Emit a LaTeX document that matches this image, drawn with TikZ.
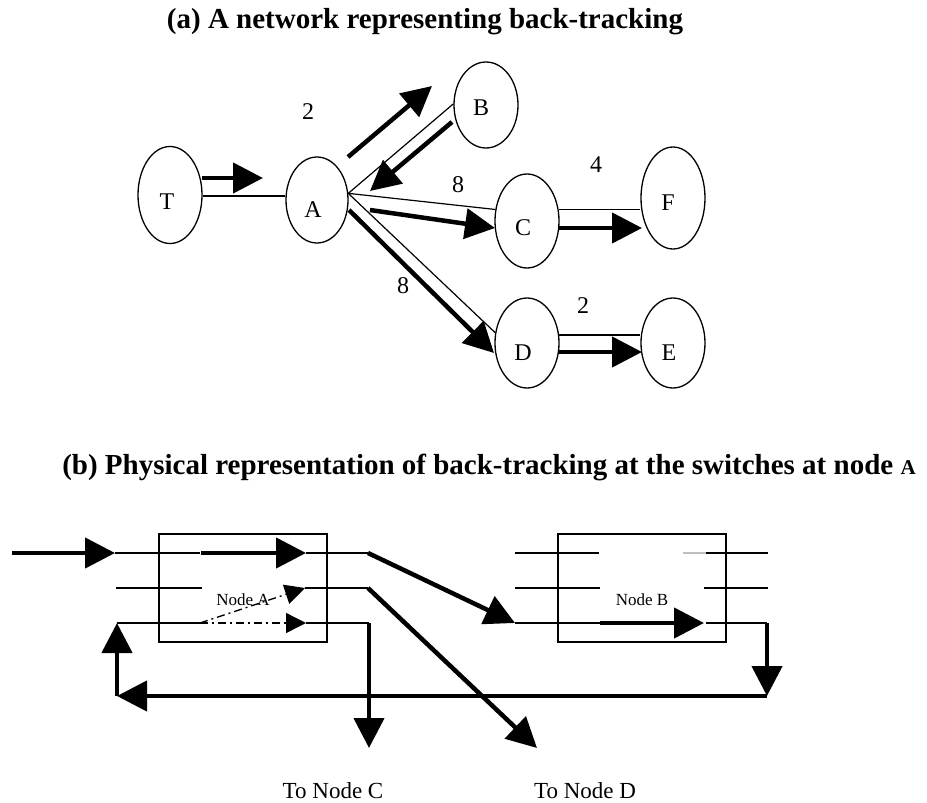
\documentclass[tikz,border=0pt]{standalone}
\usepackage{fontspec}
\setmainfont{Liberation Serif}
\usetikzlibrary{shapes.geometric,arrows.meta}
\begin{document}
\begin{tikzpicture}[x=1pt,y=-1pt,
  ell/.style={draw, ellipse, line width=1.3pt, inner sep=0pt},
  lbl/.style={font=\fontsize{24}{28}\selectfont, inner sep=0pt},
  small/.style={font=\fontsize{17}{20}\selectfont, inner sep=0pt},
  title/.style={font=\fontsize{29}{34}\selectfont\bfseries, inner sep=0pt, anchor=base},
  thinedge/.style={line width=1.2pt},
  wire/.style={line width=1.6pt},
  fat/.style={line width=4.5pt, -{Triangle[length=30pt,width=30pt]}},
  fatline/.style={line width=4.5pt},
  dashdot/.style={line width=1.4pt, dash pattern=on 8pt off 4pt on 2pt off 4pt, -{Triangle[length=20pt,width=20pt]}},
  box/.style={draw, line width=1.6pt, minimum width=168pt, minimum height=108pt, inner sep=0pt}
]
\useasboundingbox (0,0) rectangle (927,803);

% ---------- (a) ----------
\node[title] (ta) at (425,28) {(a) A network representing back-tracking};

\node[ell, minimum width=64pt, minimum height=97pt] (T) at (170,195) {};
\node[ell, minimum width=62pt, minimum height=86pt] (A) at (317,200) {};
\node[ell, minimum width=64pt, minimum height=86pt] (B) at (486,105) {};
\node[ell, minimum width=64pt, minimum height=94pt] (C) at (527,221) {};
\node[ell, minimum width=64pt, minimum height=102pt] (F) at (673,198) {};
\node[ell, minimum width=64pt, minimum height=90pt] (D) at (527,343) {};
\node[ell, minimum width=64pt, minimum height=90pt] (E) at (673,343) {};

\node[lbl] (Tl) at (167,202) {T};
\node[lbl] (Al) at (313,210) {A};
\node[lbl] (Bl) at (481,108) {B};
\node[lbl] (Cl) at (523,228) {C};
\node[lbl] (Fl) at (668,203) {F};
\node[lbl] (Dl) at (523,353) {D};
\node[lbl] (El) at (669,353) {E};

\node[lbl] (w1) at (308,112) {2};
\node[lbl] (w2) at (458,185) {8};
\node[lbl] (w3) at (403,286) {8};
\node[lbl] (w4) at (596,165) {4};
\node[lbl] (w5) at (583,306) {2};

% thin edges
\draw[thinedge] (T.east |- 0,196) -- (A.west |- 0,196);
\draw[thinedge] (A.12) -- (B.178);
\draw[thinedge] (A.12) -- (C.160);
\draw[thinedge] (A.12) -- (D.162);
\draw[thinedge] (C.20) -- (C.20 -| F.west);
\draw[thinedge] (D.14) -- (D.14 -| E.west);

% thick arrows
\coordinate (ta1) at (202,178); \coordinate (ta2) at (263,178);
\coordinate (ab1) at (348,157); \coordinate (ab2) at (432,86);
\coordinate (ba1) at (452,122); \coordinate (ba2) at (370,191);
\coordinate (ac1) at (370,210); \coordinate (ac2) at (495,228);
\coordinate (ad1) at (349,210); \coordinate (ad2) at (494,353);
\coordinate (cf1) at (558,228); \coordinate (cf2) at (642,228);
\coordinate (de1) at (558,352); \coordinate (de2) at (642,352);
\draw[fat] (ta1) -- (ta2);
\draw[fat] (ab1) -- (ab2);
\draw[fat] (ba1) -- (ba2);
\draw[fat] (ac1) -- (ac2);
\draw[fat] (ad1) -- (ad2);
\draw[fat] (cf1) -- (cf2);
\draw[fat] (de1) -- (de2);

% ---------- (b) ----------
\node[title] (tb) at (489,474) {(b) Physical representation of back-tracking at the switches at node {\fontsize{21}{25}\selectfont A}};

\node[box] (NA) at (243,588) {};
\node[box] (NB) at (642,588) {};
\node[small] (NAl) at (243,600) {Node A};
\node[small] (NBl) at (642,600) {Node B};

% node A wires
\coordinate (in0) at (12,553);
\coordinate (a1l) at (115,553); \coordinate (a1m) at (200,553);
\coordinate (a1s) at (201,553); \coordinate (a1t) at (306,553); \coordinate (a1r) at (368,553);
\coordinate (a2l) at (116,588); \coordinate (a2m) at (202,588);
\coordinate (a2t) at (305,588); \coordinate (a2r) at (368,588);
\coordinate (a3l) at (117,623); \coordinate (a3m) at (200,623);
\coordinate (a3t) at (306,623); \coordinate (a3r) at (369,623);

\draw[fat] (in0) -- (a1l);
\draw[wire] (a1l) -- (a1m);
\draw[fat] (a1s) -- (a1t);
\draw[wire] (a1t) -- (a1r);
\draw[wire] (a2l) -- (a2m);
\draw[wire] (a2t) -- (a2r);
\draw[wire] (a3l) -- (a3m);
\draw[wire] (a3t) -- (a3r);
\draw[dashdot] (a3m) -- (a2t);
\draw[dashdot] (a3m) -- (a3t);

% node B wires
\coordinate (b1l) at (515,553); \coordinate (b1m) at (599,553);
\coordinate (b1g) at (683,553); \coordinate (b1n) at (706,553); \coordinate (b1r) at (768,553);
\coordinate (b2l) at (515,588); \coordinate (b2m) at (600,588);
\coordinate (b2n) at (704,588); \coordinate (b2r) at (768,588);
\coordinate (b3l) at (515,623); \coordinate (b3m) at (600,623);
\coordinate (b3t) at (704,623); \coordinate (b3n) at (706,623); \coordinate (b3r) at (767,623);

\draw[wire] (b1l) -- (b1m);
\draw[line width=1.2pt, gray!50] (b1g) -- (b1n);
\draw[wire] (b1n) -- (b1r);
\draw[wire] (b2l) -- (b2m);
\draw[wire] (b2n) -- (b2r);
\draw[wire] (b3l) -- (b3m);
\draw[fat] (b3m) -- (b3t);
\draw[wire] (b3n) -- (b3r);

% links
\coordinate (toC) at (369,748);
\coordinate (toD) at (537,748);
\coordinate (br) at (767,696);
\coordinate (bl) at (117,696);
\draw[fat] (a1r) -- (b3l);
\draw[fat] (a2r) -- (toD);
\draw[fat] (a3r) -- (toC);
\draw[fat] (b3r) -- (br);
\draw[fat] (br) -- (bl);
\draw[fat] (bl) -- (a3l);

\node[font=\fontsize{23}{27}\selectfont, inner sep=0pt] (tC) at (333,791) {To Node C};
\node[font=\fontsize{23}{27}\selectfont, inner sep=0pt] (tD) at (585,791) {To Node D};
\end{tikzpicture}
\end{document}
